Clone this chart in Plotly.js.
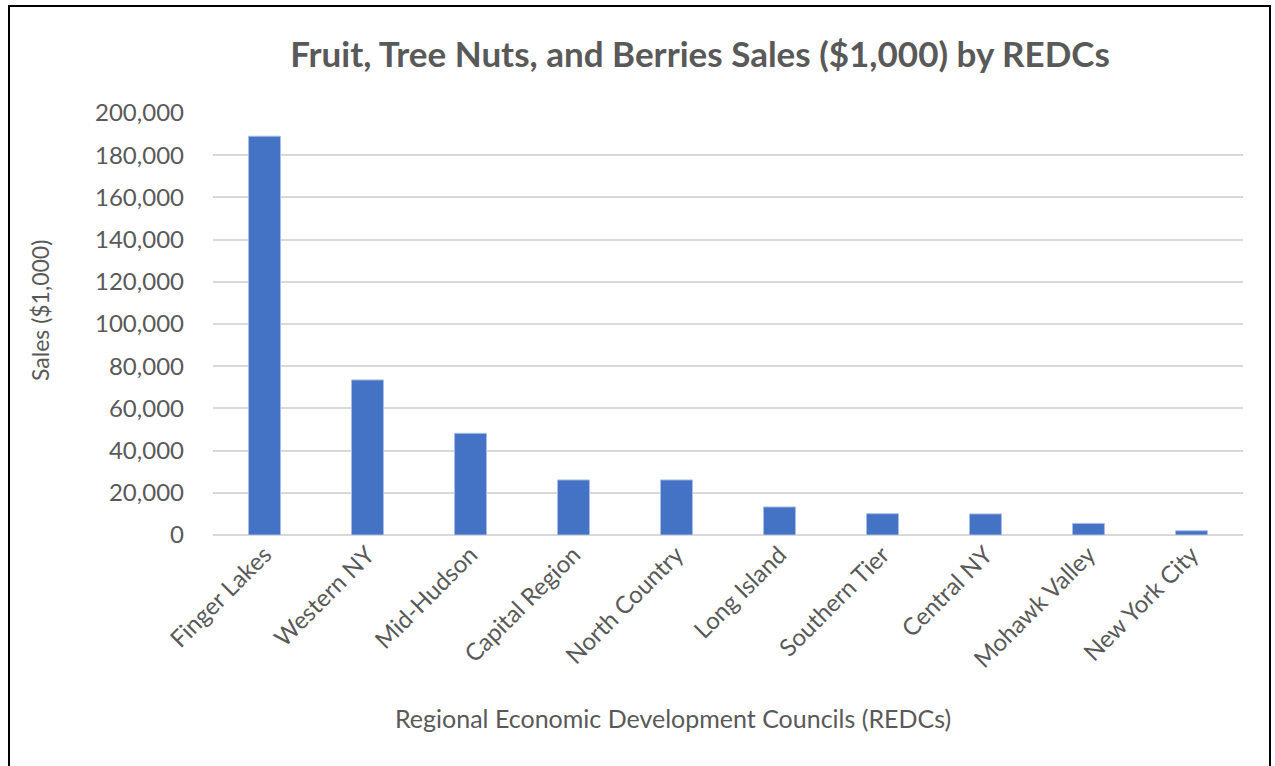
<!DOCTYPE html>
<html>
<head>
<meta charset="utf-8">
<script src="https://cdn.plot.ly/plotly-3.0.1.min.js"></script>
<style>
html,body{margin:0;padding:0;background:#fff;}
#wrap{position:relative;width:1275px;height:766px;overflow:hidden;}
#chart{position:absolute;left:0;top:0;width:1275px;height:766px;}
#frame{position:absolute;left:8px;top:5px;width:1263px;height:800px;border:2px solid #000;pointer-events:none;box-sizing:border-box;}
</style>
</head>
<body>
<div id="wrap"><div id="chart"></div><div id="frame"></div></div>
<script>
const categories = ["Finger Lakes","Western NY","Mid-Hudson","Capital Region","North Country","Long Island","Southern Tier","Central NY","Mohawk Valley","New York City"];
const sales = [189000, 73500, 48200, 26100, 26100, 13300, 10100, 10000, 5500, 2000];
const yTicks = [0,20000,40000,60000,80000,100000,120000,140000,160000,180000,200000];
const yTickLabels = ["0","20,000","40,000","60,000","80,000","100,000","120,000","140,000","160,000","180,000","200,000"];
const chartTitle = "Fruit, Tree Nuts, and Berries Sales ($1,000) by REDCs";
const xTitle = "Regional Economic Development Councils (REDCs)";
const yTitle = "Sales ($1,000)";

const gray = "#595959";
const font = "Lato, 'Open Sans', sans-serif";

Plotly.newPlot("chart", [{
  type: "bar",
  x: categories,
  y: sales,
  marker: {color: "#4472C4", line: {color: "#a9bde6", width: 1}},
  hoverinfo: "x+y"
}], {
  width: 1275, height: 766,
  margin: {l: 213, r: 32, t: 113, b: 231},
  paper_bgcolor: "rgba(0,0,0,0)",
  plot_bgcolor: "#fff",
  bargap: 0.69,
  showlegend: false,
  title: {text: "<b>" + chartTitle + "</b>", x: 0.549, xanchor: "center", y: 0.928, yanchor: "middle", font: {family: font, size: 35, color: gray}},
  xaxis: {
    tickangle: -45, tickfont: {family: font, size: 24, color: gray},
    showgrid: false, zeroline: false, showline: false, ticks: "",
    automargin: false
  },
  yaxis: {
    range: [0, 200000], tickvals: yTicks, ticktext: yTickLabels,
    tickfont: {family: font, size: 24, color: gray},
    gridcolor: "#d9d9d9", gridwidth: 2, zeroline: true, zerolinecolor: "#d9d9d9", zerolinewidth: 2,
    showline: false, ticks: "", ticklabelstandoff: 28,
    automargin: false
  },
  annotations: [
    {text: xTitle, xref: "paper", yref: "paper", x: 0.4466, y: -0.4336, xanchor: "center", yanchor: "middle", showarrow: false, font: {family: font, size: 25, color: gray}},
    {text: yTitle, xref: "paper", yref: "paper", x: -0.168, y: 0.533, xanchor: "center", yanchor: "middle", textangle: -90, showarrow: false, font: {family: font, size: 23, color: gray}}
  ]
}, {displayModeBar: false, staticPlot: true});
</script>
</body>
</html>
